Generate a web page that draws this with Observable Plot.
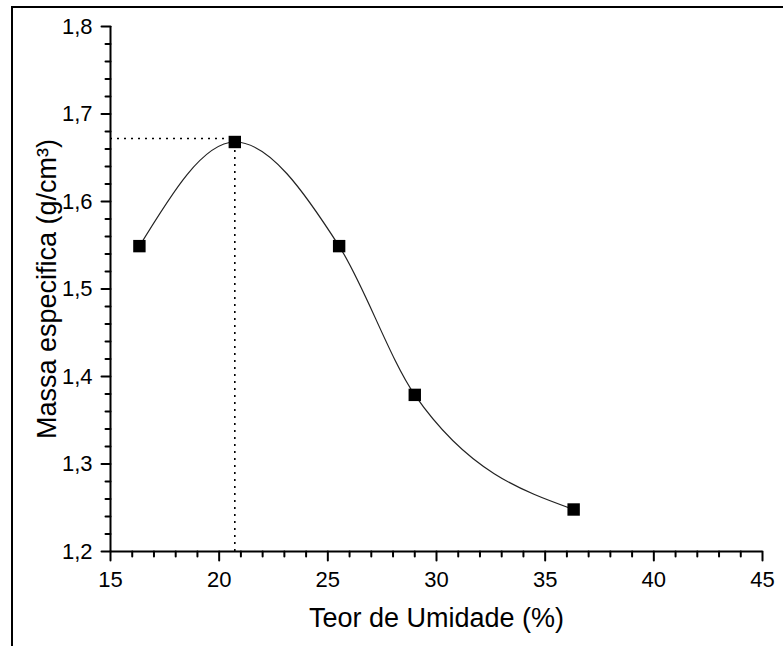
<!DOCTYPE html>
<html>
<head>
<meta charset="utf-8">
<script src="https://cdn.jsdelivr.net/npm/d3@7"></script>
<script src="https://cdn.jsdelivr.net/npm/@observablehq/plot@0.6"></script>
<style>
  html, body { margin: 0; padding: 0; background: #fff; }
  #wrap { position: relative; width: 783px; height: 646px; overflow: hidden; background: #fff; }
  #frame { position: absolute; left: 11px; top: 6px; width: 800px; height: 700px; border: 2px solid #000; box-sizing: border-box; pointer-events: none; }
  #chart { position: absolute; left: 0; top: 0; }
</style>
</head>
<body>
<div id="wrap"><div id="chart"></div><div id="frame"></div></div>
<script>
// Data
const moisture = [16.33, 20.72, 25.52, 29.0, 36.31];      // Teor de Umidade (%)
const density  = [1.549, 1.668, 1.549, 1.379, 1.248];     // Massa especifica (g/cm³)

// Optimum point (dotted guide lines)
const optimumMoisture = [20.72];
const maxDensity = [1.672];

// Axis ticks
const xMajorTicks = [15, 20, 25, 30, 35, 40, 45];
const xMinorTicks = [16,17,18,19,21,22,23,24,26,27,28,29,31,32,33,34,36,37,38,39,41,42,43,44];
const yMajorTicks = [1.2, 1.3, 1.4, 1.5, 1.6, 1.7, 1.8];
const yMinorTicks = [1.22,1.24,1.26,1.28,1.32,1.34,1.36,1.38,1.42,1.44,1.46,1.48,1.52,1.54,1.56,1.58,1.62,1.64,1.66,1.68,1.72,1.74,1.76,1.78];

const xTitle = ["Teor de Umidade (%)"];
const yTitle = ["Massa especifica (g/cm³)"];

const points = moisture.map((m, i) => ({x: m, y: density[i]}));
const xDomain = [xMajorTicks[0], xMajorTicks[xMajorTicks.length - 1]];
const yDomain = [yMajorTicks[0], yMajorTicks[yMajorTicks.length - 1]];

const font = "Arial, 'Liberation Sans', Helvetica, sans-serif";
const major = 9, minor = 5;
const tickColor = "#000";

// tick shape for vector marks (a plain segment, no arrow head)
const tickShape = {draw(context, l) { context.moveTo(0, 0); context.lineTo(0, -l); }};

const chart = Plot.plot({
  width: 783,
  height: 646,
  marginLeft: 110,
  marginRight: 21,
  marginTop: 26,
  marginBottom: 95,
  x: {domain: xDomain, axis: null},
  y: {domain: yDomain, axis: null},
  style: {fontFamily: font, fontSize: "22px", color: "#000", background: "transparent", overflow: "visible"},
  marks: [
    // tick marks (outward)
    Plot.vector(xMajorTicks, {x: d => d, y: yDomain[0], length: major, rotate: 180, anchor: "start", shape: tickShape, stroke: tickColor, strokeWidth: 2}),
    Plot.vector(xMinorTicks, {x: d => d, y: yDomain[0], length: minor, rotate: 180, anchor: "start", shape: tickShape, stroke: tickColor, strokeWidth: 2}),
    Plot.vector(yMajorTicks, {y: d => d, x: xDomain[0], length: major, rotate: -90, anchor: "start", shape: tickShape, stroke: tickColor, strokeWidth: 2}),
    Plot.vector(yMinorTicks, {y: d => d, x: xDomain[0], length: minor, rotate: -90, anchor: "start", shape: tickShape, stroke: tickColor, strokeWidth: 2}),
    // tick labels
    Plot.text(xMajorTicks, {x: d => d, y: yDomain[0], text: d => String(d), lineAnchor: "top", dy: major + 11, fontSize: 22, fill: "#000"}),
    Plot.text(yMajorTicks, {y: d => d, x: xDomain[0], text: d => d.toFixed(1).replace(".", ","), textAnchor: "end", dx: -(major + 9), fontSize: 22, fill: "#000"}),
    // axis lines
    Plot.ruleX([xDomain[0]], {strokeWidth: 2, stroke: "#000"}),
    Plot.ruleY([yDomain[0]], {strokeWidth: 2, stroke: "#000"}),
    // dotted guides
    Plot.ruleY(maxDensity, {x1: xDomain[0], x2: optimumMoisture[0], stroke: "#000", strokeWidth: 1.6, strokeDasharray: "2,5"}),
    Plot.ruleX(optimumMoisture, {y1: yDomain[0], y2: maxDensity[0], stroke: "#000", strokeWidth: 1.6, strokeDasharray: "2,5"}),
    // fitted curve
    Plot.line(points, {x: "x", y: "y", curve: "monotone-x", stroke: "#222", strokeWidth: 1.2}),
    // data points
    Plot.dot(points, {x: "x", y: "y", symbol: "square", r: 7, fill: "#000", stroke: null}),
    // axis titles
    Plot.text(xTitle, {text: d => d, frameAnchor: "bottom", textAnchor: "middle", lineAnchor: "bottom", dy: 75, fontSize: 27, fill: "#000"}),
    Plot.text(yTitle, {text: d => d, frameAnchor: "left", textAnchor: "middle", lineAnchor: "bottom", rotate: -90, dx: -55, fontSize: 27, fill: "#000"})
  ]
});
document.getElementById("chart").appendChild(chart);
</script>
</body>
</html>
